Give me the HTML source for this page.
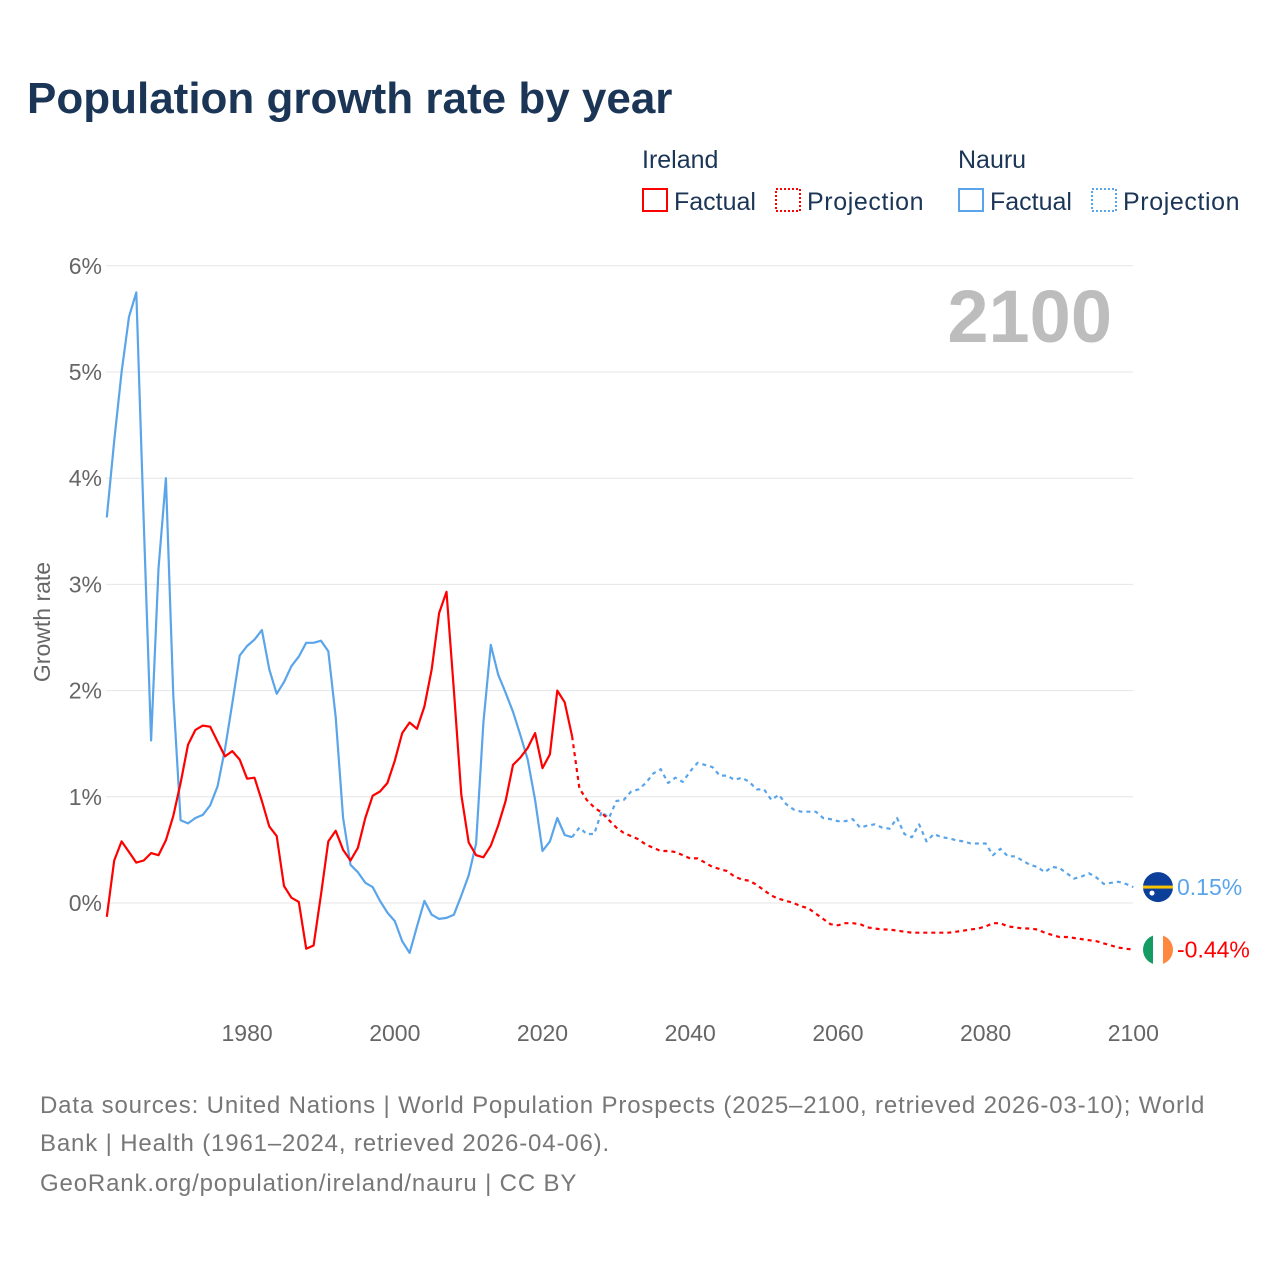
<!DOCTYPE html>
<html><head><meta charset="utf-8"><style>
body{margin:0;background:#fff;width:1280px;height:1280px;overflow:hidden;font-family:"Liberation Sans",sans-serif}
</style></head><body>
<svg id="chart" width="1280" height="1280" xmlns="http://www.w3.org/2000/svg" font-family="Liberation Sans, sans-serif">
<text x="27" y="113" font-size="44" font-weight="bold" fill="#1b3556">Population growth rate by year</text>
<g font-size="25" fill="#1b3556">
<text x="642" y="168">Ireland</text><text x="958" y="168">Nauru</text>
<rect x="643" y="189" width="24" height="22" fill="none" stroke="#ff0000" stroke-width="2"/><text x="674" y="210">Factual</text>
<rect x="776" y="189" width="24" height="22" fill="none" stroke="#ff0000" stroke-width="2" stroke-dasharray="2,2"/><text x="807" y="210" letter-spacing="0.6">Projection</text>
<rect x="959" y="189" width="24" height="22" fill="none" stroke="#5aa5ea" stroke-width="2"/><text x="990" y="210">Factual</text>
<rect x="1092" y="189" width="24" height="22" fill="none" stroke="#5aa5ea" stroke-width="2" stroke-dasharray="2,2"/><text x="1123" y="210" letter-spacing="0.6">Projection</text>
</g>
<text x="1112" y="342" font-size="74" font-weight="bold" fill="#bdbdbd" text-anchor="end">2100</text>
<text transform="translate(50,622) rotate(-90)" font-size="23" fill="#666" text-anchor="middle">Growth rate</text>
<g id="grid"></g><g id="series"></g>
<g font-size="24" fill="#777" letter-spacing="0.85">
<text x="40" y="1113">Data sources: United Nations | World Population Prospects (2025–2100, retrieved 2026-03-10); World</text>
<text x="40" y="1151">Bank | Health (1961–2024, retrieved 2026-04-06).</text>
<text x="40" y="1191">GeoRank.org/population/ireland/nauru | CC BY</text>
</g>
</svg>
<script>
const yTicks=[0,1,2,3,4,5,6];
const xTicks=[1980,2000,2020,2040,2060,2080,2100];
const irelandFactual=[-0.13,0.40,0.58,0.48,0.38,0.40,0.47,0.45,0.59,0.82,1.13,1.49,1.63,1.67,1.66,1.52,1.38,1.43,1.35,1.17,1.18,0.96,0.72,0.63,0.16,0.05,0.01,-0.43,-0.40,0.08,0.58,0.68,0.50,0.40,0.52,0.80,1.01,1.05,1.13,1.34,1.60,1.70,1.64,1.85,2.20,2.73,2.93,2.00,1.02,0.57,0.45,0.43,0.54,0.73,0.96,1.30,1.37,1.46,1.60,1.27,1.40,2.00,1.89,1.57];
const irelandProj=[1.57,1.08,0.97,0.90,0.85,0.78,0.71,0.66,0.63,0.60,0.55,0.52,0.49,0.49,0.48,0.45,0.42,0.42,0.38,0.34,0.32,0.30,0.25,0.22,0.21,0.17,0.12,0.07,0.04,0.02,0.00,-0.03,-0.05,-0.10,-0.15,-0.20,-0.21,-0.19,-0.19,-0.20,-0.23,-0.24,-0.25,-0.25,-0.26,-0.27,-0.28,-0.28,-0.28,-0.28,-0.28,-0.28,-0.27,-0.26,-0.25,-0.24,-0.22,-0.19,-0.19,-0.22,-0.23,-0.24,-0.24,-0.25,-0.28,-0.30,-0.32,-0.32,-0.33,-0.34,-0.35,-0.36,-0.38,-0.40,-0.42,-0.43,-0.44];
const nauruFactual=[3.63,4.35,5.00,5.52,5.75,3.60,1.53,3.15,4.00,1.95,0.78,0.75,0.80,0.83,0.92,1.10,1.45,1.88,2.33,2.42,2.48,2.57,2.20,1.97,2.08,2.23,2.32,2.45,2.45,2.47,2.37,1.75,0.80,0.36,0.29,0.19,0.15,0.02,-0.09,-0.17,-0.36,-0.47,-0.22,0.02,-0.11,-0.15,-0.14,-0.11,0.07,0.26,0.56,1.70,2.43,2.15,1.98,1.80,1.58,1.35,0.97,0.49,0.58,0.80,0.64,0.62];
const nauruProj=[0.62,0.71,0.65,0.65,0.86,0.80,0.96,0.97,1.05,1.07,1.13,1.22,1.26,1.13,1.18,1.14,1.24,1.32,1.30,1.28,1.20,1.20,1.16,1.18,1.14,1.07,1.07,0.97,1.02,0.93,0.88,0.86,0.86,0.86,0.80,0.79,0.77,0.77,0.79,0.71,0.73,0.74,0.71,0.70,0.80,0.65,0.62,0.74,0.58,0.65,0.62,0.61,0.59,0.58,0.56,0.56,0.56,0.45,0.51,0.44,0.44,0.40,0.36,0.34,0.29,0.34,0.33,0.28,0.23,0.25,0.28,0.24,0.18,0.19,0.20,0.18,0.15];
const NS="http://www.w3.org/2000/svg";
const X=y=>106.8+(y-1961)*7.385;
const Y=v=>903-v*106.2;
const grid=document.getElementById('grid'),ser=document.getElementById('series');
function mk(tag,attrs,parent){const e=document.createElementNS(NS,tag);for(const k in attrs)e.setAttribute(k,attrs[k]);parent.appendChild(e);return e;}
yTicks.forEach(t=>{
 const l=mk('line',{x1:106,x2:1133,y1:Y(t),y2:Y(t),stroke:'#e6e6e6','stroke-width':1},grid);
 
 
 const tx=mk('text',{x:102,y:Y(t)+8,'font-size':23,fill:'#666','text-anchor':'end'},grid);
 tx.textContent=t+'%';
 
 
});
xTicks.forEach(t=>{
 const tx=mk('text',{x:X(t),y:1041,'font-size':23,fill:'#666','text-anchor':'middle'},grid);
 tx.textContent=t;
 
 
});
function line(vals,start,color,dash,name){
 const d=vals.map((v,i)=>(i?'L':'M')+X(start+i).toFixed(1)+','+Y(v).toFixed(1)).join('');
 const p=mk('path',{d:d,fill:'none',stroke:color,'stroke-width':2.2,'stroke-linejoin':'round'},ser);
 if(dash)p.setAttribute('stroke-dasharray','4,4');
 
 
}
line(nauruFactual,1961,'#5aa5ea',false,'nauru-factual-line');
line(nauruProj,2024,'#5aa5ea',true,'nauru-projection-line');
line(irelandFactual,1961,'#ff0000',false,'ireland-factual-line');
line(irelandProj,2024,'#ff0000',true,'ireland-projection-line');
const nv=nauruProj[nauruProj.length-1],iv=irelandProj[irelandProj.length-1];
const g1=mk('g',{},ser);


mk('circle',{cx:1158,cy:Y(nv),r:15,fill:'#0b3f9a'},g1);
mk('rect',{x:1143,y:Y(nv)-1.5,width:30,height:3,fill:'#f8c300'},g1);
mk('circle',{cx:1152,cy:Y(nv)+6,r:2.5,fill:'#fff'},g1);
const t1=mk('text',{x:1177,y:Y(nv)+8,'font-size':23,fill:'#5aa5ea'},ser);
t1.textContent=nv.toFixed(2)+'%';


const g2=mk('g',{},ser);


const cp=mk('clipPath',{id:'ie'},g2);mk('circle',{cx:1158,cy:Y(iv),r:15},cp);
mk('rect',{x:1143,y:Y(iv)-15,width:10,height:30,fill:'#169b62','clip-path':'url(#ie)'},g2);
mk('rect',{x:1153,y:Y(iv)-15,width:10,height:30,fill:'#fff','clip-path':'url(#ie)'},g2);
mk('rect',{x:1163,y:Y(iv)-15,width:10,height:30,fill:'#ff883e','clip-path':'url(#ie)'},g2);
const t2=mk('text',{x:1177,y:Y(iv)+8,'font-size':23,fill:'#ff0000'},ser);
t2.textContent=iv.toFixed(2)+'%';


</script>
</body></html>
